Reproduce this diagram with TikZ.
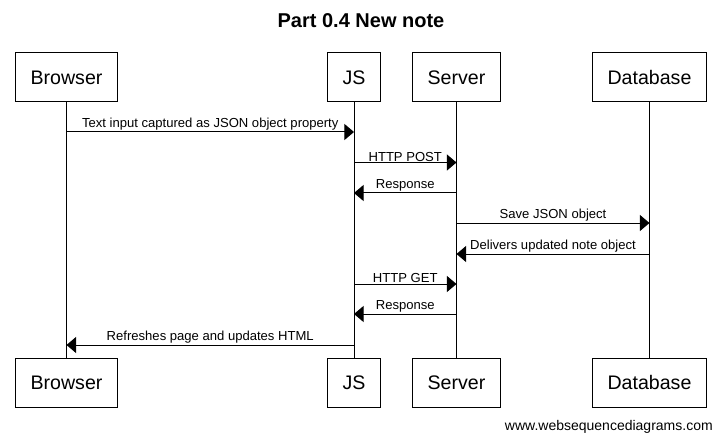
\documentclass[tikz,border=0pt]{standalone}
\usepackage{fontspec}
\setmainfont{Liberation Sans}
\usetikzlibrary{arrows.meta,positioning}
\tikzset{
  actor/.style={draw,line width=0.75pt,minimum height=36.75pt,inner xsep=11.6pt,
                font=\fontsize{14.7}{17}\selectfont},
  lifeline/.style={line width=0.75pt},
  msg/.style={-{Triangle[length=7.2pt,width=12pt]},line width=0.75pt},
  msglabel/.style={above,inner sep=0.6pt,font=\fontsize{9.8}{11}\selectfont}
}

\begin{document}
\begin{tikzpicture}[x=0.75pt,y=-0.75pt]
    \path[use as bounding box] (0,0) rectangle (721,442);
    \node[font=\bfseries\fontsize{15}{18}\selectfont] (title) at (361,21)
      {Part 0.4 New note};
    % participants, top row
    \node[actor] (browserT) at (66.5,77.5) {Browser};
    \node[actor] (jsT) at (354,77.5) {JS};
    \node[actor] (serverT) at (456.5,77.5) {Server};
    \node[actor] (dbT) at (649.5,77.5) {Database};
    % participants, bottom row
    \node[actor] (browserB) at (66.5,382.5) {Browser};
    \node[actor] (jsB) at (354,382.5) {JS};
    \node[actor] (serverB) at (456.5,382.5) {Server};
    \node[actor] (dbB) at (649.5,382.5) {Database};
    % lifelines
    \draw[lifeline] (browserT) -- (browserB);
    \draw[lifeline] (jsT) -- (jsB);
    \draw[lifeline] (serverT) -- (serverB);
    \draw[lifeline] (dbT) -- (dbB);
    % messages
    \draw[msg] (browserT |- 0,132) -- (jsT |- 0,132)
      node[msglabel,midway] {Text input captured as JSON object property};
    \draw[msg] (jsT |- 0,162.5) -- (serverT |- 0,162.5)
      node[msglabel,midway] {HTTP POST};
    \draw[msg] (serverT |- 0,193) -- (jsT |- 0,193)
      node[msglabel,midway] {Response};
    \draw[msg] (serverT |- 0,223) -- (dbT |- 0,223)
      node[msglabel,midway] {Save JSON object};
    \draw[msg] (dbT |- 0,254) -- (serverT |- 0,254)
      node[msglabel,midway] {Delivers updated note object};
    \draw[msg] (jsT |- 0,284) -- (serverT |- 0,284)
      node[msglabel,midway] {HTTP GET};
    \draw[msg] (serverT |- 0,314) -- (jsT |- 0,314)
      node[msglabel,midway] {Response};
    \draw[msg] (jsT |- 0,345) -- (browserT |- 0,345)
      node[msglabel,midway] {Refreshes page and updates HTML};
    \node[anchor=east,inner sep=0pt,font=\fontsize{10.5}{12}\selectfont] (credit)
      at (713,427) {www.websequencediagrams.com};
\end{tikzpicture}
\end{document}
